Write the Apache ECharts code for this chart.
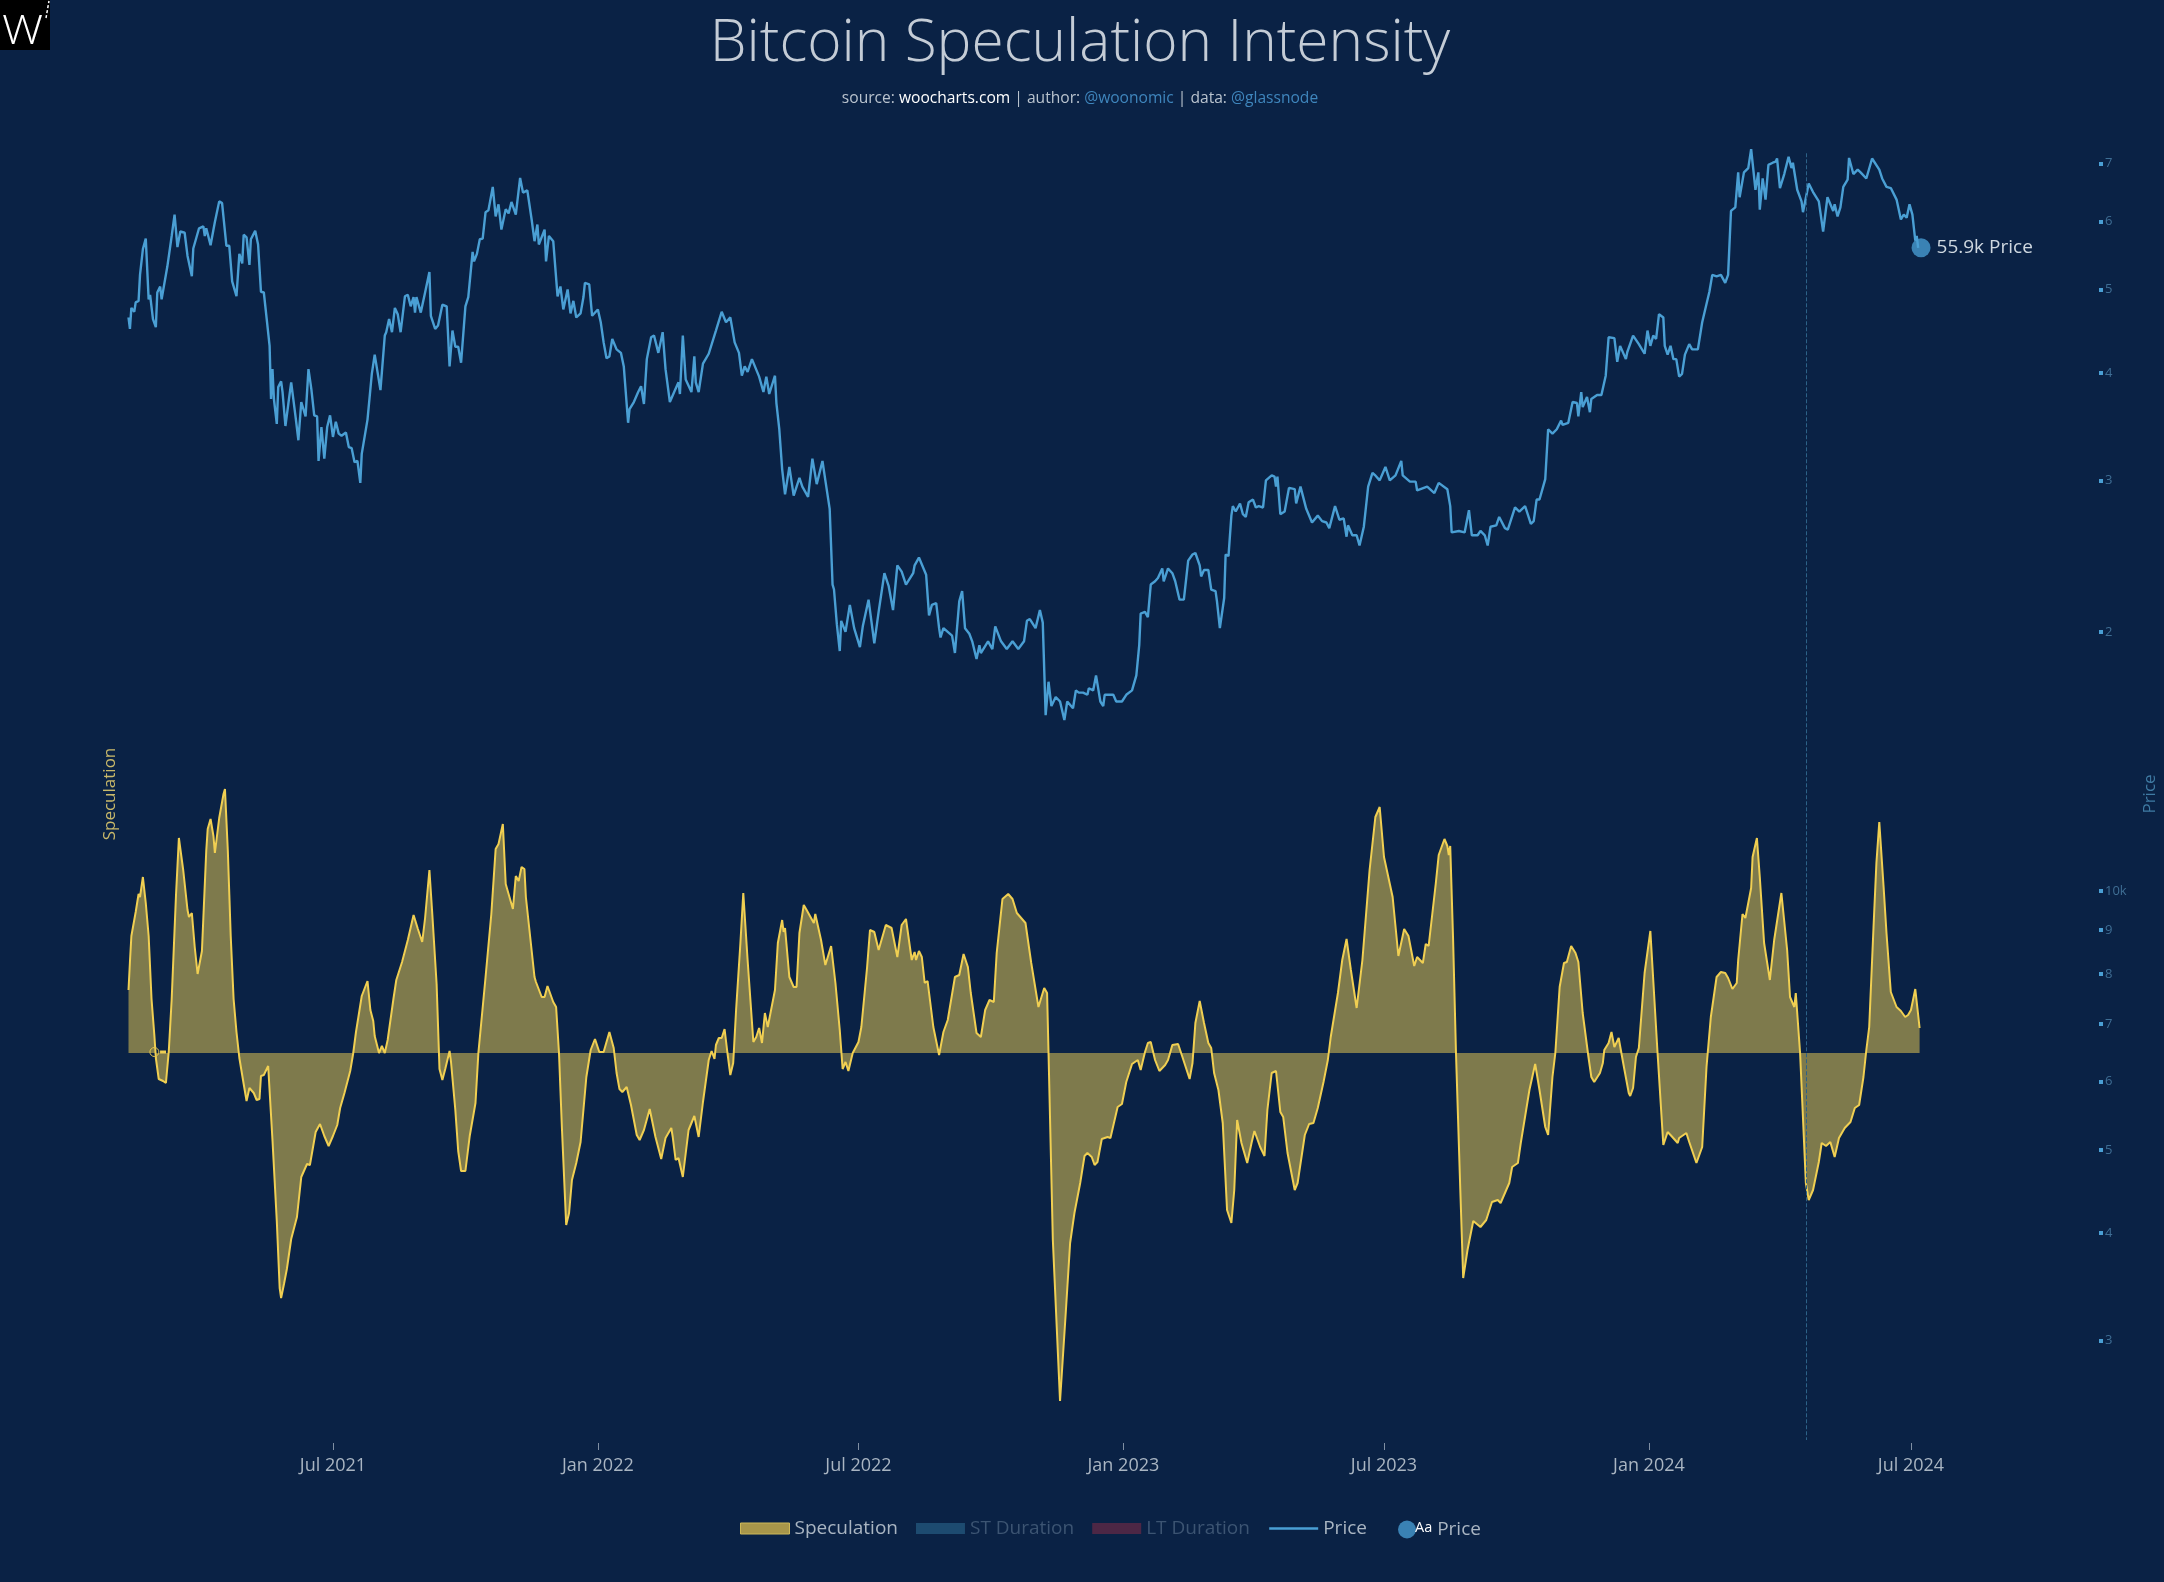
<!DOCTYPE html>
<html><head><meta charset="utf-8">
<script src="https://cdn.jsdelivr.net/npm/echarts@6/dist/echarts.min.js"></script>
<style>html,body{margin:0;padding:0;background:#0a2245}#c{width:2164px;height:1582px}</style>
</head><body><div id="c"></div>
<script>
// Day numbers count from START_DATE.
const START_DATE = '2021-02-09';
const priceDays = [
0,1,2,4,5,7,8,10,12,14,15,17,19,20,22,23,24,27,30,32,34,36,39,41,44,45,49,52,53,54,57,60,61,63,65,68,70,72,75,77,
79,80,82,84,85,88,90,91,92,94,96,98,99,100,101,103,104,106,107,109,111,113,116,118,120,123,125,127,129,131,132,134,136,138,140,142,144,146,148,151,
153,155,157,159,161,162,166,169,171,175,178,179,181,183,185,187,189,192,194,196,198,199,200,203,206,209,210,213,215,218,221,223,225,227,229,231,234,236,239,240,
242,244,246,248,250,253,255,257,259,262,264,266,269,272,274,277,280,282,284,285,289,290,292,295,298,300,302,305,307,309,311,314,316,317,320,322,326,328,330,332,
334,336,339,342,344,347,348,351,354,356,358,360,363,365,368,371,373,376,379,382,383,385,387,391,393,394,396,399,403,408,412,415,418,421,424,426,428,430,433,438,
441,443,445,449,450,452,454,456,459,462,466,468,472,475,478,482,484,487,489,490,492,494,495,498,501,504,508,510,514,518,521,525,528,531,534,537,540,545,546,549,
554,556,558,561,563,564,566,569,572,574,577,579,581,584,586,589,591,592,597,600,602,606,610,614,618,622,624,626,630,633,635,637,639,641,644,647,650,652,656,658,
660,663,666,667,670,672,675,677,678,684,686,690,693,697,700,702,703,706,708,710,713,715,718,719,722,725,727,730,733,736,739,741,744,745,747,750,752,755,756,758,
761,762,764,766,767,769,772,774,776,778,781,783,785,788,790,794,796,797,798,800,803,806,810,811,814,818,822,826,829,832,834,838,841,844,846,847,850,853,855,858,
861,864,866,869,873,876,880,884,885,890,894,895,902,907,910,916,918,919,924,928,931,933,937,939,942,944,946,950,952,956,958,963,966,970,974,976,978,980,984,986,
989,992,995,996,1000,1003,1006,1007,1009,1010,1013,1015,1016,1020,1023,1026,1028,1032,1034,1036,1040,1041,1045,1049,1053,1055,1057,1059,1061,1063,1066,1067,1069,1071,1073,1075,1077,1079,1081,1084,
1086,1090,1093,1098,1100,1103,1106,1109,1111,1113,1116,1118,1119,1122,1125,1127,1130,1132,1133,1135,1137,1139,1142,1144,1145,1147,1150,1153,1155,1156,1159,1162,1163,1167,1170,1174,1177,1180,1184,1185,
1187,1189,1191,1194,1195,1198,1201,1203,1207,1211,1216,1218,1221,1224,1228,1231,1233,1235,1237,1239,1241,1242,1243];
const priceK = [
46.4,45,47.6,47.1,48.3,48.5,52,55.7,57.3,48.7,49.3,46.2,45.2,49.6,50.4,48.7,48.8,53.2,57.7,61.1,56,58.4,58.2,54.7,51.8,55.8,58.9,59.2,57.7,58.9,56.3,59.9,60,63.3,63,56.2,56.2,51.1,49.1,55,
53.6,57.9,57.5,53.4,57.2,58.5,56.4,56.4,49.7,49.6,46.2,43,37.3,40.4,37.3,34.9,38.5,39.1,38,34.7,36.8,39,35.6,33.4,37,35.6,40.4,38.3,35.7,35.6,31.6,34.6,31.8,34.6,35.7,33.7,35.1,34,33.8,34.1,
32.8,32.7,31.5,31.6,29.8,32.2,35.3,39.9,42,38.2,44.2,44.6,46.2,44.6,47.6,46.8,44.6,49.1,49.3,47.8,49,47,49,47,49.6,52.4,46.6,45,45.4,48,47.8,40.7,44.8,42.9,42.9,41.1,47.8,49,55.3,53.9,
55,57.2,57.3,61.5,61.8,65.8,60.8,62.8,58.7,62,61.3,63.2,61.1,67.4,64.8,65.2,60.3,56.9,59.5,56.4,58.7,53.9,57.7,56.9,49.1,50.4,47.4,50,46.9,48.5,46.4,46.9,49,50.9,50.7,46.6,47.4,45.8,43.4,41.6,
41.8,43.8,42.6,42.2,40.7,35,36.3,37,38,38.6,36.8,41.5,44,44.2,42.2,44.6,40.4,37,38,39,37.8,44.2,39.3,38,41.8,39,38,41,42.1,44.8,47.1,45.8,46.4,43.4,42.2,39.7,40.7,40.1,41.5,39.6,
38,39.6,37.8,39.7,36.9,34.4,30.9,28.9,31.1,28.8,30.2,29.5,28.7,31.8,29.7,31.6,30,27.8,22.7,22.4,20.4,19,20.6,20,21.5,20.2,19.2,20.3,21.8,19.4,21.1,23.4,22.6,21.2,23.9,23.5,22.7,23.4,23.9,24.4,
23.3,20.9,21.5,21.6,20.2,19.7,20.2,20,19.8,18.9,21.7,22.3,20.2,19.9,19.5,18.6,19.3,18.9,19.5,19.1,20.3,19.5,19.1,19.5,19.1,19.5,20.6,20.7,20.2,21.2,20.5,16,17.5,16.4,16.8,16.6,15.8,16.6,16.3,17.1,
17,17,16.9,17.2,17.1,17.8,16.6,16.4,16.9,16.9,16.6,16.6,16.9,17.1,17.8,19.3,21,21.1,20.8,22.7,22.9,23.1,23.7,22.9,23.7,23.4,22.9,21.8,21.8,24.2,24.6,24.7,23.9,23.2,23.6,23.6,22.4,22.3,21.7,20.2,
21.9,24.6,24.5,27.3,28,27.6,28.2,27.4,27.2,28.3,28.5,27.9,28,27.9,30,30.4,30.3,29.5,30.3,27.4,27.6,29.4,29.3,28.2,29.5,27.8,26.8,27.3,26.9,26.8,26.4,28,27,27.1,25.8,26.6,25.9,25.9,25.2,26.5,
29.5,30.6,30.4,30,31.1,30,30.4,31.6,30.4,29.9,29.9,29.2,29.5,29,29.8,29.3,28,26.1,26.2,26.1,27.7,25.9,25.9,26.2,25.9,25.2,26.5,26.6,27.2,26.4,26.3,27.9,27.6,28,26.7,26.9,28.5,28.5,30.1,34.4,
34,34.4,35.2,34.8,35,37,36.9,35.6,38,36.5,37.5,36,37.3,37.7,37.7,39.7,44,43.9,41.2,43,41.5,42.3,44.2,43.2,42.1,44.8,43,44.2,43.8,46.8,46.4,43,42,43,41.5,41.5,39.6,39.9,42,43.2,
42.6,42.6,45.8,49.7,52,51.8,52,50.9,52,61.7,62.3,68.4,64,68.4,69.2,72.8,65.3,68.4,61.9,67.3,63.6,69.8,70.2,70.4,71,65.6,68.1,71.3,69.2,70.2,65.3,63.3,61.5,66.4,64.9,63.3,58.4,64,61.7,62.8,
60.8,62.3,65.8,67.1,71.1,68.1,68.9,68.4,67.3,71,68.9,67.3,65.8,65.6,63.6,60.3,61.1,60.6,62.8,61.1,57,57.7,55.9];
const specDays = [
0,1,2,5,7,8,10,12,14,16,18,19,21,24,26,28,30,33,35,38,41,42,44,46,48,51,54,55,57,59,60,63,66,67,69,71,73,75,77,80,
82,84,87,89,91,92,94,97,98,100,103,105,106,108,110,113,117,120,124,126,130,133,136,139,142,145,147,150,154,156,158,162,163,166,168,170,171,174,176,178,
180,184,186,190,191,194,198,201,204,206,209,211,214,216,218,220,223,224,227,229,231,234,237,241,243,248,252,255,257,260,262,264,267,269,271,273,275,276,282,283,
287,289,291,295,297,299,301,304,306,308,311,314,318,321,324,327,330,334,337,339,341,343,346,349,353,355,358,362,366,370,373,377,378,380,382,385,389,393,396,399,
403,405,407,408,410,412,414,416,418,420,422,425,427,430,434,436,438,440,442,444,449,451,454,455,456,459,462,464,466,469,471,476,477,481,482,484,488,491,494,496,
498,500,503,507,509,513,515,518,521,526,530,534,537,540,544,546,547,549,551,553,555,559,563,566,569,574,577,580,583,585,589,592,595,598,601,603,607,611,614,617,
623,627,632,636,638,639,642,647,651,654,657,661,664,666,669,671,673,676,680,682,687,690,693,697,701,703,706,708,710,713,716,720,722,725,729,732,737,739,741,744,
747,750,752,754,757,760,763,766,768,770,773,777,780,782,786,789,791,794,797,800,802,805,810,812,817,820,823,826,830,833,835,840,843,846,849,853,857,862,866,869,
872,878,882,886,889,893,895,899,901,903,908,910,914,916,917,918,920,922,925,927,930,934,939,943,947,951,953,959,961,965,967,973,977,980,984,986,987,989,991,994,
997,999,1002,1005,1007,1010,1014,1016,1018,1022,1024,1025,1028,1030,1032,1035,1038,1042,1043,1045,1047,1049,1053,1057,1058,1062,1066,1069,1071,1072,1076,1077,1082,1084,1089,1093,1096,1099,1103,1106,
1109,1111,1114,1117,1118,1121,1123,1127,1128,1131,1133,1136,1140,1143,1148,1152,1154,1157,1158,1161,1165,1167,1170,1174,1176,1179,1182,1185,1188,1192,1196,1199,1202,1205,1207,1209,1212,1214,1216,1219,
1221,1224,1228,1231,1234,1236,1238,1241,1244];
const specValues = [
62,90,116,140,158,155,175,149,116,53,16,-6,-27,-29,-31,1,53,157,214,182,142,135,139,105,78,101,201,223,233,216,199,234,258,263,201,116,53,20,-6,-32,
-49,-36,-41,-48,-47,-24,-23,-14,-14,-88,-169,-236,-246,-232,-217,-187,-165,-125,-112,-113,-80,-72,-84,-94,-84,-73,-56,-41,-19,-2,20,56,57,71,42,31,16,-1,6,-1,
12,53,72,90,91,112,137,123,110,134,182,138,68,-17,-28,-17,1,-10,-58,-99,-119,-119,-84,-51,-1,75,138,203,208,228,168,158,143,176,171,185,183,155,75,70,
55,55,66,50,45,-1,-75,-173,-161,-128,-111,-90,-25,2,13,0,0,20,4,-21,-37,-40,-35,-53,-83,-88,-78,-57,-85,-107,-86,-76,-85,-108,-106,-125,-78,-64,-85,-50,
-8,1,-7,7,14,14,23,-1,-23,-11,42,109,159,92,10,15,24,9,39,25,62,109,132,120,124,75,65,65,119,147,142,129,138,112,110,87,106,69,22,-17,
-10,-19,-1,10,25,85,122,120,102,127,124,95,127,133,92,100,92,101,95,69,71,25,-3,20,32,75,77,98,85,59,19,15,42,52,50,99,153,158,153,139,
129,89,45,64,59,-1,-188,-349,-260,-191,-161,-131,-104,-101,-105,-113,-110,-87,-85,-86,-55,-52,-30,-12,-8,-18,0,9,10,-8,-19,-13,-8,7,8,-5,-27,-11,29,51,
29,9,4,-21,-38,-71,-158,-171,-138,-68,-91,-111,-91,-79,-95,-104,-58,-21,-19,-60,-65,-101,-138,-131,-83,-72,-71,-56,-30,-8,15,59,92,113,82,44,92,182,235,245,
195,155,96,123,116,86,95,89,108,106,169,197,213,206,197,206,112,-1,-138,-226,-198,-169,-175,-168,-150,-148,-151,-131,-115,-111,-91,-38,-12,-38,-75,-83,-83,-25,-1,65,
89,90,106,99,90,39,-5,-25,-30,-21,-11,2,9,20,5,14,-10,-41,-44,-36,-5,4,79,121,120,-1,-93,-80,-83,-81,-91,-86,-81,-90,-111,-95,-15,35,75,80,
79,74,63,69,92,138,134,164,195,214,175,109,72,112,159,102,55,45,59,-1,-131,-148,-138,-110,-91,-94,-90,-105,-86,-76,-70,-56,-53,-25,2,25,125,189,230,165,
119,60,45,41,35,37,42,63,24];
const xTickDates = ['2021-07-01','2022-01-01','2022-07-01','2023-01-01','2023-07-01','2024-01-01','2024-07-01'];
const xTickLabels = ['Jul 2021','Jan 2022','Jul 2022','Jan 2023','Jul 2023','Jan 2024','Jul 2024'];
const priceTickValues = [70,60,50,40,30,20,10,9,8,7,6,5,4,3];
const priceTickLabels = ['7','6','5','4','3','2','10k','9','8','7','6','5','4','3'];
const lastPriceDay = 1245, lastPriceK = 55.9;
const halvingDay = '2024-04-19';

const DAY = 86400000, t0 = Date.parse(START_DATE + 'T00:00:00Z');
const toT = d => t0 + d * DAY;
const zip = (a,b) => a.map((d,i) => [toT(d), b[i]]);
const FONT = '"Open Sans", sans-serif';
const chart = echarts.init(document.getElementById('c'), null, {renderer:'canvas'});
const xTicks = xTickDates.map(s => Date.parse(s + 'T00:00:00Z'));
const halv = Date.parse(halvingDay + 'T00:00:00Z');
const txt = '#a9b5c2', dim = '#3c5472';

chart.setOption({
  animation: false,
  backgroundColor: '#0a2245',
  textStyle: {fontFamily: FONT},
  title: {
    left: 1075, textAlign: 'center', top: 0, itemGap: 8,
    text: 'Bitcoin Speculation Intensity',
    textStyle: {fontFamily: FONT, fontSize: 58.6, fontWeight: 300, color: '#c4ccd6', lineHeight: 78},
    subtext: '{a|source: }{w|woocharts.com}{a| | author: }{b|@woonomic}{a| | data: }{b|@glassnode}',
    subtextStyle: {fontFamily: FONT, fontSize: 15.6, rich: {
      a: {fontFamily: FONT, fontSize: 15.6, color: '#b9c3ce'},
      w: {fontFamily: FONT, fontSize: 15.6, color: '#ffffff'},
      b: {fontFamily: FONT, fontSize: 15.6, color: '#3f86bd'}
    }}
  },
  legend: [{
    left: 735, top: 1514, itemWidth: 49, itemHeight: 11, itemGap: 18, selectedMode: false,
    textStyle: {fontFamily: FONT, fontSize: 19, color: txt},
    data: [
      {name:'Speculation', icon:'rect', itemStyle:{color:'#a8964a', borderColor:'#cdb858', borderWidth:1}, textStyle:{color:txt}},
      {name:'ST Duration', icon:'rect', itemStyle:{color:'#1d4b70', borderWidth:0}, textStyle:{color:dim}},
      {name:'LT Duration', icon:'rect', itemStyle:{color:'#4d2745', borderWidth:0}, textStyle:{color:dim}},
      {name:'Price', itemStyle:{opacity:0}, lineStyle:{color:'#4a9fd4', width:2.5, opacity:1}, textStyle:{color:txt}}
    ]
  },{
    left: 1393, top: 1515, itemWidth: 18, itemHeight: 18, selectedMode: false,
    formatter: () => '{a|Aa} Price',
    textStyle: {fontFamily: FONT, fontSize: 19, color: txt, padding:[0,0,0,-6], rich:{a:{fontFamily:FONT,fontSize:14.5,color:'#ffffff',padding:[0,0,4,0]}}},
    data: [{name:'Aa Price', icon:'circle', itemStyle:{color:'#3a82b4'}}]
  }],
  grid: {left: 120, right: 65, top: 138, bottom: 142, containLabel: false, outerBoundsMode: 'none'},
  xAxis: {
    type: 'value', min: toT(-5.9), max: toT(1368.6), scale: true, offset: 3,
    axisLine: {show:false, onZero:false},
    axisTick: {show:true, length:7, lineStyle:{color:'#7f8fa3', width:1}, customValues: xTicks},
    splitLine: {show:false},
    axisLabel: {color: txt, fontFamily: FONT, fontSize: 18, margin: 14, customValues: xTicks, hideOverlap:false,
      formatter: v => xTickLabels[xTicks.indexOf(+v)] || ''}
  },
  yAxis: [{
    type: 'log', logBase: 10, position: 'right', min: 2.3, max: 75,
    name: 'Price', nameLocation: 'middle', nameGap: 43, nameRotate: 90,
    nameTextStyle: {color:'#3f7ba3', fontFamily: FONT, fontSize: 17, padding:[0,10,0,0]},
    axisLine: {show:false},
    axisTick: {show:true, inside:false, length:4, lineStyle:{color:'#4a9fd4', width:4}, customValues: priceTickValues},
    minorTick: {show:false}, splitLine: {show:false},
    axisLabel: {show:true, color:'#3f6e94', fontFamily:FONT, fontSize:13, margin:6, customValues: priceTickValues,
      hideOverlap:false, showMinLabel:true, showMaxLabel:true,
      formatter: v => { const i = priceTickValues.findIndex(p => Math.abs(p - v) < 1e-6); return i < 0 ? '' : priceTickLabels[i]; }}
  },{
    type: 'value', position: 'left', min: -388, max: 914,
    name: 'Speculation', nameLocation: 'middle', nameGap: 1, nameRotate: 90,
    nameTextStyle: {color:'#c9b96a', fontFamily: FONT, fontSize: 17, padding:[0,10,0,0]},
    axisLine: {show:false}, axisTick: {show:false}, axisLabel: {show:false}, splitLine: {show:false}
  }],
  series: [{
    name: 'Speculation', type: 'line', yAxisIndex: 1, showSymbol: false, symbol: 'none', smooth: false,
    data: zip(specDays, specValues),
    lineStyle: {color:'#f0cf52', width:2},
    itemStyle: {color:'#f0cf52'},
    areaStyle: {color:'#f2d253', opacity:0.5, origin:-1},
    markPoint: {silent:true, label:{show:false}, data:[
      {coord:[toT(18),0], symbol:'circle', symbolSize:9, itemStyle:{color:'transparent', borderColor:'#e8c84f', borderWidth:1}},
      {coord:[toT(24),0], symbol:'rect', symbolSize:[6,3], itemStyle:{color:'#f0cf52'}}
    ]}
  },{
    name: 'ST Duration', type: 'line', yAxisIndex: 1, data: [], itemStyle:{color:'#1d4b70'}
  },{
    name: 'LT Duration', type: 'line', yAxisIndex: 1, data: [], itemStyle:{color:'#4d2745'}
  },{
    name: 'Price', type: 'line', yAxisIndex: 0, showSymbol: false, symbol: 'none',
    data: zip(priceDays, priceK),
    lineStyle: {color:'#4a9fd4', width:2.4},
    itemStyle: {color:'#4a9fd4'},
    z: 3,
    markLine: {silent:true, symbol:'none', label:{show:false},
      lineStyle:{color:'#2d6288', type:'dashed', width:1},
      data:[[{coord:[halv,72]},{coord:[halv,2.3]}]]}
  },{
    name: 'Aa Price', type: 'scatter', yAxisIndex: 0, symbolSize: 19, z: 2,
    data: [[toT(lastPriceDay), lastPriceK]],
    itemStyle: {color:'#3a82b4', opacity:1},
    label: {show:true, position:'right', distance:6, formatter:'55.9k Price', color:'#cfd8e0', fontFamily:FONT, fontSize:19}
  }],
  graphic: [
    {type:'rect', left:0, top:0, shape:{width:50,height:50}, style:{fill:'#000000'}, silent:true},
    {type:'text', left:2, top:13, scaleX:1.15, style:{text:'W', fill:'#ffffff', font:'300 40px "Open Sans"'}, silent:true},
    {type:'line', shape:{x1:46,y1:18,x2:49,y2:1}, style:{stroke:'#ffffff', lineWidth:1.5, lineDash:[3,2]}, silent:true}
  ]
});
</script></body></html>
